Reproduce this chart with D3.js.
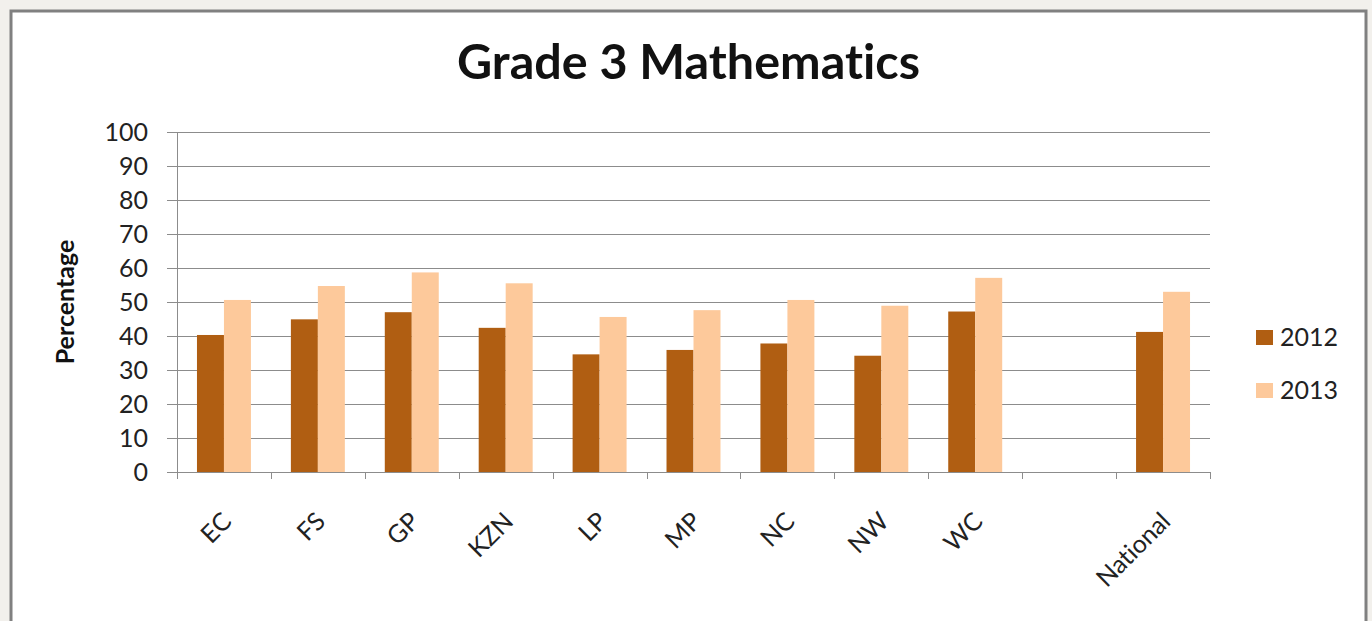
<!DOCTYPE html>
<html>
<head>
<meta charset="utf-8">
<script src="https://cdn.jsdelivr.net/npm/d3@7/dist/d3.min.js"></script>
<style>
  html, body { margin: 0; padding: 0; background: #f2f0ec; }
  svg { display: block; }
  text { font-family: Lato, "Open Sans", sans-serif; fill: #111; font-variant-ligatures: none; }
</style>
</head>
<body>
<svg id="chart" width="1372" height="621"></svg>
<script>
const categories = ["EC", "FS", "GP", "KZN", "LP", "MP", "NC", "NW", "WC", "", "National"];
const series = ["2012", "2013"];
const values2012 = [40.3, 44.9, 47.0, 42.4, 34.6, 35.9, 37.8, 34.2, 47.2, null, 41.2];
const values2013 = [50.6, 54.7, 58.7, 55.5, 45.6, 47.6, 50.6, 48.9, 57.1, null, 53.0];
const yTicks = [0, 10, 20, 30, 40, 50, 60, 70, 80, 90, 100];
const colors = ["#b05e12", "#fdc99b"];
const titleText = "Grade 3 Mathematics";
const yTitle = "Percentage";

(function () {
const svg = d3.select("#chart");

// frame
svg.append("rect").attr("x", 11).attr("y", 11).attr("width", 1355).attr("height", 640)
  .attr("fill", "#ffffff").attr("stroke", "#808080").attr("stroke-width", 3);

const pl = 177, pr = 1210, pt = 132, pb = 472;
const x = d3.scaleBand().domain(categories).range([pl, pr]).paddingInner(0).paddingOuter(0);
const xs = d3.scaleBand().domain(series).range([0, x.bandwidth()]).paddingInner(0).paddingOuter(0.74);
const y = d3.scaleLinear().domain([0, 100]).range([pb, pt]);

// gridlines
svg.append("g").selectAll("line").data(yTicks).join("line")
  .attr("x1", pl - 10).attr("x2", pr)
  .attr("y1", d => Math.round(y(d)) + 0.5).attr("y2", d => Math.round(y(d)) + 0.5)
  .attr("stroke", "#8c8c8c").attr("stroke-width", 1);

// y axis line
svg.append("line").attr("x1", pl + 0.5).attr("x2", pl + 0.5).attr("y1", pt).attr("y2", pb)
  .attr("stroke", "#8c8c8c");

// y tick labels
svg.append("g").selectAll("text").data(yTicks).join("text")
  .attr("x", 148).attr("y", d => y(d)).attr("dy", "0.36em")
  .attr("text-anchor", "end").style("font-size", "25px").style("fill", "#222")
  .text(d => d);

// bars
const data = categories.map((c, i) => ({ c, vals: [values2012[i], values2013[i]] }));
const groups = svg.append("g").selectAll("g").data(data).join("g")
  .attr("transform", d => `translate(${x(d.c)},0)`);
groups.selectAll("rect").data(d => d.vals.map((v, j) => ({ v, s: series[j], j })).filter(e => e.v != null))
  .join("rect")
  .attr("x", e => xs(e.s)).attr("width", xs.bandwidth())
  .attr("y", e => y(e.v)).attr("height", e => y(0) - y(e.v))
  .attr("fill", e => colors[e.j]);

// x axis line + ticks
svg.append("line").attr("x1", pl).attr("x2", pr).attr("y1", pb + 0.5).attr("y2", pb + 0.5)
  .attr("stroke", "#8c8c8c");
const boundaries = categories.map(c => x(c)).concat([pr]);
svg.append("g").selectAll("line").data(boundaries).join("line")
  .attr("x1", d => Math.round(d) + 0.5).attr("x2", d => Math.round(d) + 0.5)
  .attr("y1", pb).attr("y2", pb + 7).attr("stroke", "#8c8c8c");

// x labels
svg.append("g").selectAll("text").data(categories.filter(c => c !== "")).join("text")
  .attr("transform", c => `translate(${x(c) + x.bandwidth() / 2 + 9},523) rotate(-45)`)
  .attr("text-anchor", "end").style("font-size", "25px").style("fill", "#222")
  .text(c => c);

// y title
svg.append("text").attr("transform", "translate(74,302) rotate(-90)")
  .attr("text-anchor", "middle").style("font-size", "25px").style("font-weight", "bold")
  .text(yTitle);

// title
const t = svg.append("text").attr("x", 688.5).attr("y", 79).attr("text-anchor", "middle")
  .style("font-size", "40px").style("font-weight", "bold").text(titleText);
const w = t.node().getComputedTextLength();
t.style("font-size", (40 * 463 / w).toFixed(2) + "px");

// legend
const lg = svg.append("g").selectAll("g").data(series).join("g")
  .attr("transform", (d, i) => `translate(1256,${330 + i * 53})`);
lg.append("rect").attr("width", 17).attr("height", 15).attr("fill", (d, i) => colors[i]);
lg.append("text").attr("x", 24).attr("y", 16).style("font-size", "25px").style("fill", "#222").text(d => d);
})();
</script>
</body>
</html>
